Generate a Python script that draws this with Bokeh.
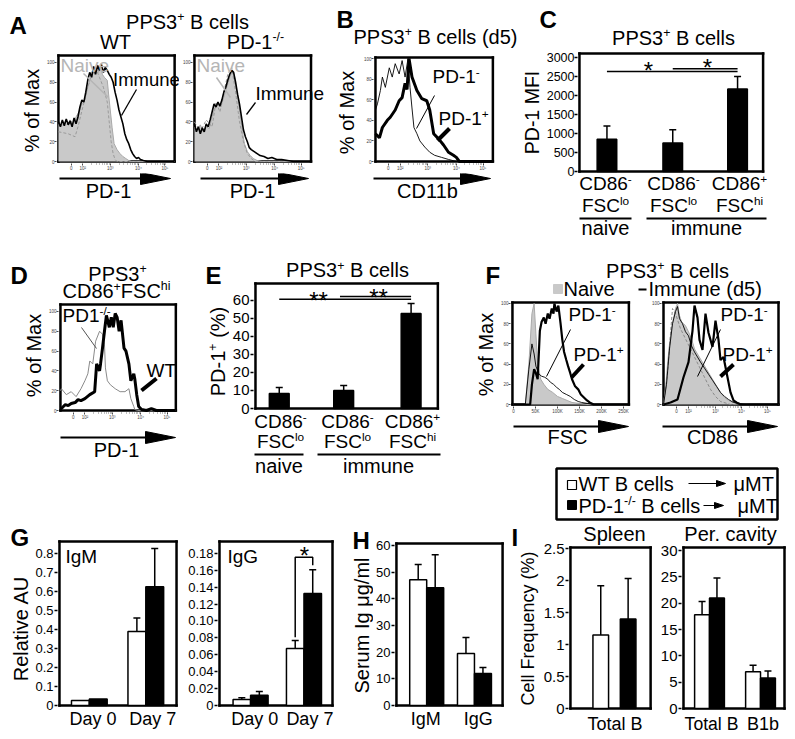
import math
from bokeh.plotting import figure
from bokeh.layouts import row, column
from bokeh.models import (Range1d, Label, Arrow, TeeHead, Whisker, ColumnDataSource,
                          FixedTicker, LinearAxis, PolyAnnotation)
from bokeh.embed import file_html
from bokeh.resources import INLINE

FONT = "Liberation Sans"
GRAY_FILL = "#c9c9c9"
GRAY_LINE = "#a9a9a9"
LABEL_GRAY = "#b5b5b5"

# ======================= DATA =======================
# Histograms: x = display channel (F1: FSC in thousands), y = % of max
a_wt_naive_ch = [0, 3, 6, 9, 12, 15, 18, 21, 24, 27, 30, 33, 35, 37, 39, 41, 43, 45, 47, 50, 52, 55, 57, 60, 63, 66, 69, 72, 75, 119]
a_wt_naive_pct = [38, 36, 40, 37, 42, 38, 45, 50, 58, 62, 75, 85, 92, 88, 95, 90, 96, 88, 85, 82, 62, 34, 18, 12, 8, 5, 3, 1, 0, 0]
a_wt_naive2_ch = [0, 10, 17, 20, 25, 30, 35, 38, 42, 46, 50, 52, 54, 56, 58, 60, 119]
a_wt_naive2_pct = [30, 28, 25, 35, 55, 75, 90, 95, 85, 75, 60, 40, 20, 8, 2, 0, 0]
a_wt_immune_ch = [0, 2, 4, 6, 8, 10, 12, 14, 16, 18, 20, 22, 24, 26, 28, 30, 32, 34, 36, 38, 40, 42, 44, 46, 48, 50, 52, 54, 56, 58, 60, 62, 64, 66, 68, 70, 72, 74, 76, 78, 80, 82, 84, 87, 91, 119]
a_wt_immune_pct = [40, 35, 42, 36, 43, 37, 41, 35, 44, 38, 45, 55, 62, 60, 70, 82, 90, 85, 96, 88, 97, 92, 98, 90, 95, 92, 88, 85, 80, 70, 62, 52, 45, 38, 28, 22, 18, 12, 8, 5, 3, 4, 2, 1, 0, 0]
a_ko_naive_ch = [0, 3, 6, 9, 12, 15, 18, 21, 24, 27, 30, 33, 36, 39, 41, 43, 45, 47, 49, 51, 54, 57, 60, 64, 69, 119]
a_ko_naive_pct = [35, 32, 37, 30, 36, 33, 45, 55, 58, 55, 65, 75, 85, 92, 85, 72, 60, 45, 30, 18, 10, 6, 3, 1, 0, 0]
a_ko_naive2_ch = [0, 6, 12, 18, 22, 26, 30, 34, 38, 42, 46, 50, 54, 58, 62, 119]
a_ko_naive2_pct = [40, 30, 42, 35, 60, 50, 70, 88, 95, 70, 40, 20, 8, 3, 0, 0]
a_ko_immune_ch = [0, 2, 4, 6, 8, 10, 12, 14, 16, 18, 20, 22, 24, 26, 28, 30, 32, 34, 36, 38, 40, 42, 44, 46, 48, 50, 52, 54, 56, 58, 61, 64, 67, 71, 75, 79, 84, 89, 95, 101, 119]
a_ko_immune_pct = [38, 30, 35, 28, 34, 30, 38, 35, 42, 50, 58, 55, 60, 56, 62, 70, 75, 82, 88, 92, 90, 80, 68, 58, 45, 32, 25, 20, 14, 12, 10, 8, 6, 5, 3, 4, 2, 2, 1, 0, 0]

b_neg_ch = [0, 2, 5, 7, 10, 14, 17, 20, 24, 27, 30, 33, 35, 37, 39, 42, 45, 50, 55, 60, 67, 74, 82, 119]
b_neg_pct = [50, 56, 69, 82, 72, 91, 82, 95, 85, 98, 82, 100, 72, 52, 33, 27, 20, 14, 9, 6, 4, 2, 0, 0]
b_pos_ch = [0, 4, 7, 12, 15, 20, 24, 27, 30, 32, 34, 37, 42, 47, 52, 55, 59, 64, 69, 74, 79, 82, 85, 119]
b_pos_pct = [27, 23, 33, 40, 43, 50, 59, 62, 76, 70, 100, 82, 69, 61, 59, 50, 27, 22, 16, 9, 6, 4, 0, 0]

d_ko_ch = [0, 1, 6, 11, 16, 21, 25, 28, 30, 33, 36, 40, 43, 45, 46, 48, 51, 56, 61, 66, 70, 72, 75, 76, 79, 118]
d_ko_pct = [20, 22, 16, 19, 14, 22, 30, 37, 50, 47, 70, 80, 77, 67, 43, 30, 26, 22, 19, 19, 22, 12, 4, 1, 0, 0]
d_wt_ch = [0, 1, 5, 8, 11, 15, 18, 21, 25, 30, 35, 37, 40, 41, 43, 45, 47, 50, 52, 54, 56, 58, 60, 62, 65, 67, 70, 72, 75, 76, 78, 80, 83, 88, 93, 98, 118]
d_wt_pct = [2, 2, 6, 5, 7, 8, 11, 10, 12, 16, 19, 47, 40, 47, 63, 80, 96, 84, 94, 84, 98, 94, 80, 91, 63, 60, 47, 30, 37, 32, 16, 4, 1, 0, 2, 0, 0]

f_fsc_naive_k = [0, 27, 35, 42, 47, 51, 55, 62, 69, 78, 89, 100, 111, 122, 133, 151, 167, 262]
f_fsc_naive_pct = [0, 0, 40, 90, 100, 70, 40, 25, 20, 15, 12, 8, 6, 4, 2, 1, 0, 0]
f_fsc_neg_k = [0, 27, 35, 42, 47, 51, 58, 64, 71, 78, 84, 91, 98, 104, 111, 120, 129, 138, 147, 155, 169, 182, 262]
f_fsc_neg_pct = [0, 0, 35, 60, 50, 38, 30, 28, 27, 25, 22, 20, 17, 15, 12, 10, 8, 5, 3, 2, 1, 0, 0]
f_fsc_pos_k = [0, 38, 42, 47, 51, 55, 60, 64, 69, 73, 78, 82, 87, 91, 93, 98, 102, 107, 111, 115, 120, 124, 129, 133, 140, 147, 153, 160, 167, 173, 182, 262]
f_fsc_pos_pct = [0, 0, 20, 35, 31, 25, 73, 82, 86, 80, 90, 85, 95, 90, 100, 92, 98, 80, 64, 52, 44, 38, 31, 25, 18, 15, 10, 7, 4, 2, 0, 0]
f_cd86_naive_ch = [0, 2, 4, 6, 8, 10, 12, 14, 16, 18, 20, 22, 25, 28, 31, 34, 37, 40, 43, 46, 49, 52, 55, 58, 61, 65, 70, 77, 85, 115]
f_cd86_naive_pct = [0, 15, 40, 60, 75, 85, 95, 100, 88, 82, 80, 78, 72, 65, 55, 50, 45, 40, 35, 30, 25, 20, 15, 10, 7, 4, 2, 1, 0, 0]
f_cd86_naive2_ch = [0, 4, 7, 9, 12, 17, 22, 27, 32, 37, 42, 47, 52, 57, 67, 115]
f_cd86_naive2_pct = [0, 30, 70, 95, 90, 75, 65, 55, 45, 35, 25, 15, 8, 3, 0, 0]
f_cd86_neg_ch = [0, 3, 6, 9, 12, 14, 16, 19, 22, 25, 28, 31, 34, 37, 41, 45, 49, 53, 57, 61, 65, 70, 77, 85, 115]
f_cd86_neg_pct = [0, 20, 55, 80, 92, 97, 85, 80, 72, 68, 58, 52, 47, 42, 36, 30, 24, 18, 12, 8, 5, 2, 1, 0, 0]
f_cd86_pos_ch = [0, 7, 14, 20, 25, 29, 31, 34, 36, 39, 42, 45, 49, 52, 55, 57, 60, 64, 67, 70, 73, 77, 115]
f_cd86_pos_pct = [0, 2, 5, 27, 42, 73, 98, 86, 64, 54, 90, 71, 57, 83, 64, 44, 47, 27, 12, 4, 2, 0, 0]

hist_pct_ticks = [0, 20, 40, 60, 80, 100]
log_tick_labels = ["0", "10\u00b2", "10\u00b3", "10\u2074", "10\u2075"]
fsc_ticks = [0, 50, 100, 150, 200, 250]
fsc_tick_labels = ["0", "50K", "100K", "150K", "200K", "250K"]

# C: PD-1 MFI ; E: % PD-1+
c_mfi = [850, 750, 2170]
c_mfi_err = [350, 350, 330]
c_sig = [2630, 2705]
e_pct = [8.3, 10.0, 52.8]
e_pct_err = [3.4, 2.8, 5.5]
e_sig = [60.6, 62.2]

# G: relative AU (IgM / IgG); H: serum Ig; I: cell frequency
g_days = ["Day 0", "Day 7"]
g_igm_wt = [0.026, 0.389]
g_igm_wt_err = [0.0, 0.072]
g_igm_ko = [0.034, 0.625]
g_igm_ko_err = [0.0, 0.201]
g_igg_wt = [0.007, 0.0675]
g_igg_wt_err = [0.0022, 0.0095]
g_igg_ko = [0.012, 0.1326]
g_igg_ko_err = [0.0045, 0.028]
g_igg_sig = [0.1753, 0.0806, 0.166]
h_iso = ["IgM", "IgG"]
h_wt = [47.2, 19.5]
h_wt_err = [5.7, 6.0]
h_ko = [44.2, 12.0]
h_ko_err = [12.4, 2.3]
i_spleen = ["Total B"]
i_spleen_wt = [1.15]
i_spleen_wt_err = [0.77]
i_spleen_ko = [1.40]
i_spleen_ko_err = [0.63]
i_per = ["Total B", "B1b"]
i_per_wt = [17.8, 7.0]
i_per_wt_err = [2.5, 1.2]
i_per_ko = [21.0, 5.8]
i_per_ko_err = [3.8, 1.3]

# ======================= HELPERS =======================
AW = {' ': 278, '!': 278, '%': 889, '(': 333, ')': 333, '*': 389, '+': 584, '-': 333, '.': 278,
      '/': 278, 'A': 667, 'B': 667, 'C': 722, 'D': 722, 'E': 667, 'F': 611, 'G': 778, 'H': 722,
      'I': 278, 'J': 500, 'K': 667, 'L': 556, 'M': 833, 'N': 722, 'O': 778, 'P': 667, 'Q': 778,
      'R': 722, 'S': 667, 'T': 611, 'U': 722, 'V': 667, 'W': 944, 'X': 667, 'Y': 667, 'Z': 611,
      'a': 556, 'b': 556, 'c': 500, 'd': 556, 'e': 556, 'f': 278, 'g': 556, 'h': 556, 'i': 222,
      'j': 222, 'k': 500, 'l': 222, 'm': 833, 'n': 556, 'o': 556, 'p': 556, 'q': 556, 'r': 333,
      's': 500, 't': 278, 'u': 556, 'v': 500, 'w': 722, 'x': 500, 'y': 500, 'z': 500,
      '\u03bc': 576, '\u2013': 556}
SUP = 0.62
ROT = math.pi / 2
MID = 0.35   # distance from baseline to the text's vertical middle, in em
BOX = {}


def tw(s, size):
    return sum(AW.get(c, 556) for c in s) * size / 1000.0


def base_fig(X0, Y0, X1, Y1, fl, ft, fr, fb, xr, yr):
    p = figure(width=X1 - X0, height=Y1 - Y0, x_range=Range1d(*xr), y_range=Range1d(*yr),
               x_axis_type=None, y_axis_type=None, output_backend="svg", toolbar_location=None,
               title=None, frame_align=False,
               min_border_left=fl - X0, min_border_right=X1 - fr,
               min_border_top=ft - Y0, min_border_bottom=Y1 - fb)
    p.outline_line_color = None
    p.background_fill_color = "white"
    p.border_fill_color = "white"
    BOX[p.id] = (fl, fb)
    return p


def tile(X0, Y0, X1, Y1):
    return base_fig(X0, Y0, X1, Y1, X0, Y0, X1, Y1, (0, 1), (0, 1))


def plot(X0, Y0, X1, Y1, box, xd, yd, fb=None):
    # box = visible plot box (page px); xd/yd = data values at the box edges
    bl, bt, br, bb = box
    fl, ft, fr = bl - 2, Y0, X1
    if fb is None:
        fb = bb + 2
    sx = (xd[1] - xd[0]) / float(br - bl)
    sy = (yd[1] - yd[0]) / float(bb - bt)
    xr = (xd[0] - (bl - fl) * sx, xd[1] + (fr - br) * sx)
    yr = (yd[0] - (fb - bb) * sy, yd[1] + (bt - ft) * sy)
    p = base_fig(X0, Y0, X1, Y1, fl, ft, fr, fb, xr, yr)
    x0, x1 = xd
    y0, y1 = yd
    p.segment(x0=[x0, x1, x1, x0], y0=[y0, y0, y1, y1], x1=[x1, x1, x0, x0], y1=[y0, y1, y1, y0],
              line_color="#000000", line_alpha=1.0, line_width=2.5, line_cap="square")
    return p


def T(p, X, Y, text, size, align="left", color="black", angle=0.0, bold=False):
    # (X, Y) = point on the text baseline, in page pixels
    fl, fb = BOX[p.id]
    c = MID * size
    if angle == 0:
        xa, ya = X, Y - c
    else:
        xa, ya = X - c, Y
    p.add_layout(Label(x=xa - fl, y=fb - ya, x_units="screen", y_units="screen", text=text,
                       text_font=FONT, text_font_size="%.1fpx" % size, text_align=align,
                       text_baseline="middle", text_color=color, angle=angle,
                       text_font_style="bold" if bold else "normal"))


def R(p, X, Y, parts, size, align="center", angle=0.0, color="black"):
    sizes = [size * SUP if k == "u" else size for t, k in parts]
    widths = [tw(t, s) for (t, k), s in zip(parts, sizes)]
    total = sum(widths)
    off = {"left": 0.0, "center": -total / 2.0, "right": -total}[align]
    for (t, k), s, w in zip(parts, sizes, widths):
        st = t.lstrip(" ")
        lead = tw(" " * (len(t) - len(st)), s)
        rise = size * 0.38 if k == "u" else 0.0
        if angle == 0:
            T(p, X + off + lead, Y - rise, st, s, color=color)
        else:
            T(p, X - rise, Y - off - lead, st, s, angle=angle, color=color)
        off += w


def L(p, X0, Y0, X1, Y1, width=1.0, color="black", dash="solid"):
    fl, fb = BOX[p.id]
    p.add_layout(Arrow(x_start=X0 - fl, y_start=fb - Y0, x_end=X1 - fl, y_end=fb - Y1,
                       start_units="screen", end_units="screen", end=None,
                       line_width=width, line_color=color, line_dash=dash))


def PG(p, pts, fill="black", line="black", lw=1.0):
    fl, fb = BOX[p.id]
    p.add_layout(PolyAnnotation(xs=[x - fl for x, y in pts], ys=[fb - y for x, y in pts],
                                xs_units="screen", ys_units="screen",
                                fill_color=fill, fill_alpha=1.0 if fill else 0.0,
                                line_color=line, line_width=lw, line_alpha=1.0))


def axis_arrow(p, X0, X1, Y):
    L(p, X0, Y, X1 - 24, Y, width=2)
    PG(p, [(X1 - 30, Y - 6), (X1, Y), (X1 - 30, Y + 6)])


TINY = dict(axis_line_color=None, major_tick_out=2, major_tick_in=0, minor_tick_out=1,
            minor_tick_in=0, major_label_standoff=0, major_label_text_font=FONT,
            major_label_text_font_size="4.5px", major_label_text_color="#444444",
            major_tick_line_width=0.7, minor_tick_line_width=0.5)


def hist(X0, Y0, X1, Y1, box, xd, yd, xticks, xlabels, minor=None):
    p = plot(X0, Y0, X1, Y1, box, xd, yd)
    p.add_layout(LinearAxis(ticker=FixedTicker(ticks=hist_pct_ticks), **TINY), "left")
    p.add_layout(LinearAxis(ticker=FixedTicker(ticks=xticks, minor_ticks=minor or []),
                            major_label_overrides=dict(zip(xticks, xlabels)), **TINY), "below")
    return p


def log_minor(d0, dec):
    return [d0 + i * dec + dec * math.log10(k) for i in range(3) for k in range(2, 10)]


def yaxis(p, ticks, size, labels=None, tick_out=3, standoff=1):
    ax = LinearAxis(ticker=FixedTicker(ticks=ticks), axis_line_color=None, major_tick_out=tick_out,
                    major_tick_in=0, minor_tick_out=0, minor_tick_in=0, major_label_standoff=standoff,
                    major_tick_line_width=1.5, major_label_text_font=FONT,
                    major_label_text_font_size="%.1fpx" % size, major_label_text_color="black")
    if labels:
        ax.major_label_overrides = dict(zip(ticks, labels))
    p.add_layout(ax, "left")


def cat_axis(p, ticks, labels, standoff=1):
    p.add_layout(LinearAxis(ticker=FixedTicker(ticks=ticks), major_label_overrides=dict(zip(ticks, labels)),
                            axis_line_color=None, major_tick_line_color=None, major_tick_out=0,
                            major_tick_in=0, minor_tick_line_color=None, minor_tick_out=0,
                            major_label_standoff=standoff, major_label_text_font=FONT,
                            major_label_text_font_size="18px", major_label_text_color="black"), "below")


def bars(p, xs, vals, errs, width, fill):
    p.vbar(x=xs, top=vals, bottom=0, width=width, fill_color=fill, line_color="black", line_width=1.5)
    sel = [i for i, e in enumerate(errs) if e > 0]
    if sel:
        src = ColumnDataSource(dict(x=[xs[i] for i in sel], lo=[vals[i] for i in sel],
                                    hi=[vals[i] + errs[i] for i in sel]))
        p.add_layout(Whisker(source=src, base="x", lower="lo", upper="hi", dimension="height",
                             line_width=1.5, line_color="black", level="overlay",
                             upper_head=TeeHead(size=7, line_width=1.5, line_color="black"),
                             lower_head=None))


def cd86_labels(p, centers, y1, y2, signs, lohi, size=19):
    for cx, s, lh in zip(centers, signs, lohi):
        R(p, cx, y1, [("CD86", "n"), (s, "u")], size)
        R(p, cx, y2, [("FSC", "n"), (lh, "u")], size)


PPS3 = [("PPS3", "n"), ("+", "u"), (" B cells", "n")]
A_TICKS = [13, 25, 53, 82, 109]
A_MINOR = log_minor(25, 28.5)

# ======================= ROW 1 (y 0..258) =======================
tA = tile(0, 0, 335, 53)
T(tA, 9, 33, "A", 24, bold=True)
R(tA, 187, 28, PPS3, 20)
T(tA, 115, 48.8, "WT", 20, align="center")
R(tA, 255, 48.8, [("PD-1", "n"), ("-/-", "u")], 20)

tA_left = tile(0, 53, 43, 258)
T(tA_left, 38.8, 110, "% of Max", 20, align="center", angle=ROT)

pA1 = hist(43, 53, 179, 173, (55, 55, 174, 161), (0, 119), (0, 107), A_TICKS, log_tick_labels, A_MINOR)
pA1.varea(x=a_wt_naive_ch, y1=0, y2=a_wt_naive_pct, fill_color=GRAY_FILL)
pA1.line(a_wt_naive_ch, a_wt_naive_pct, line_color=GRAY_LINE, line_width=1)
pA1.line(a_wt_naive2_ch, a_wt_naive2_pct, line_color="#9a9a9a", line_width=1, line_dash="3 2")
pA1.line(a_wt_immune_ch, a_wt_immune_pct, line_color="black", line_width=1.6)
T(pA1, 57, 71.5, "Naive", 19, color=LABEL_GRAY)
T(pA1, 109.5, 85, "Immune", 18.5)
L(pA1, 80, 73, 105, 97, width=1.5, color=LABEL_GRAY)
L(pA1, 133, 89, 118, 115, width=1.3)
tA1_bot = tile(43, 173, 179, 258)
axis_arrow(tA1_bot, 59, 170, 178)
T(tA1_bot, 108, 197, "PD-1", 20, align="center")

pA2 = hist(179, 53, 335, 173, (191, 55, 310, 161), (0, 119), (0, 107), A_TICKS, log_tick_labels, A_MINOR)
pA2.varea(x=a_ko_naive_ch, y1=0, y2=a_ko_naive_pct, fill_color=GRAY_FILL)
pA2.line(a_ko_naive_ch, a_ko_naive_pct, line_color=GRAY_LINE, line_width=1)
pA2.line(a_ko_naive2_ch, a_ko_naive2_pct, line_color="#9a9a9a", line_width=1, line_dash="3 2")
pA2.line(a_ko_immune_ch, a_ko_immune_pct, line_color="black", line_width=1.6)
T(pA2, 193, 71.5, "Naive", 19, color=LABEL_GRAY)
T(pA2, 252, 100, "Immune", 19)
L(pA2, 213, 77, 227, 97, width=1.5, color=LABEL_GRAY)
L(pA2, 252, 102, 243, 114, width=1.3)
tA2_bot = tile(179, 173, 335, 258)
axis_arrow(tA2_bot, 200, 308, 178)
T(tA2_bot, 252, 197, "PD-1", 20, align="center")

colA = column(tA, row(tA_left, column(pA1, tA1_bot), column(pA2, tA2_bot)))

tB = tile(335, 0, 520, 53)
T(tB, 336, 27, "B", 24, bold=True)
R(tB, 435, 43, [("PPS3", "n"), ("+", "u"), (" B cells (d5)", "n")], 20)
tB_left = tile(335, 53, 360, 258)
T(tB_left, 353, 112, "% of Max", 20, align="center", angle=ROT)
pB = hist(360, 53, 520, 173, (373, 57, 492, 161), (0, 119), (0, 101), A_TICKS, log_tick_labels, A_MINOR)
pB.line(b_neg_ch, b_neg_pct, line_color="black", line_width=0.9)
pB.line(b_pos_ch, b_pos_pct, line_color="black", line_width=3)
R(pB, 430, 83, [("PD-1", "n"), ("-", "u")], 19, align="left")
R(pB, 436, 125, [("PD-1", "n"), ("+", "u")], 19, align="left")
L(pB, 432, 95, 414, 128, width=1)
L(pB, 447, 128, 435, 140, width=4)
tB_bot = tile(360, 173, 520, 258)
axis_arrow(tB_bot, 373, 490, 178)
T(tB_bot, 427, 197, "CD11b", 20, align="center")
colB = column(tB, row(tB_left, column(pB, tB_bot)))

C_X = [0.449, 1.524, 2.583]
tC = tile(520, 0, 795, 49)
T(tC, 539, 27, "C", 24, bold=True)
R(tC, 673, 44, PPS3, 20)
tC_left = tile(520, 49, 543, 258)
T(tC_left, 538, 112, "PD-1 MFI", 19.5, align="center", angle=ROT)
pC = plot(543, 49, 795, 258, (575, 53, 762, 171), (0, 3), (0, 3105), fb=258)
yaxis(pC, [0, 500, 1000, 1500, 2000, 2500, 3000], 12.5, tick_out=3, standoff=0)
bars(pC, C_X, c_mfi, c_mfi_err, 0.32, "black")
pC.segment(x0=[C_X[0], C_X[1]], y0=c_sig, x1=[C_X[2], C_X[2]], y1=c_sig, line_color="black", line_width=1.5)
T(pC, 644, 78, "*", 24, align="center")
T(pC, 703, 75, "*", 24, align="center")
cd86_labels(pC, [601, 669, 735], 190, 212, ["-", "-", "+"], ["lo", "lo", "hi"])
L(pC, 575, 218, 627, 218, width=2)
L(pC, 642, 218, 762, 218, width=2)
T(pC, 601, 234, "naive", 20, align="center")
T(pC, 702, 234, "immune", 20, align="center")
colC = column(tC, row(tC_left, pC))

row1 = row(colA, colB, colC)

# ======================= ROW 2 (y 258..522) =======================
tD = tile(0, 258, 190, 302)
T(tD, 10, 283, "D", 24, bold=True)
R(tD, 117, 280, [("PPS3", "n"), ("+", "u")], 20)
R(tD, 116, 297.7, [("CD86", "n"), ("+", "u"), ("FSC", "n"), ("hi", "u")], 20)
tD_left = tile(0, 302, 45, 522)
T(tD_left, 40, 355, "% of Max", 20, align="center", angle=ROT)
pD = hist(45, 302, 190, 422, (57, 304, 175, 410), (0, 118), (0, 107), A_TICKS, log_tick_labels, A_MINOR)
pD.line(d_ko_ch, d_ko_pct, line_color="#8a8a8a", line_width=1)
pD.line(d_wt_ch, d_wt_pct, line_color="black", line_width=3)
R(pD, 59, 322, [("PD1", "n"), ("-/-", "u")], 19, align="left")
T(pD, 143, 377, "WT", 19)
L(pD, 78, 327, 93, 348, width=1, color="#555555")
L(pD, 153, 378, 138, 390, width=4)
tD_bot = tile(45, 422, 190, 522)
axis_arrow(tD_bot, 60, 175, 437)
T(tD_bot, 116, 456, "PD-1", 20, align="center")
colD = column(tD, row(tD_left, column(pD, tD_bot)))

E_X = [0.391, 1.451, 2.560]
tE_left = tile(190, 258, 229, 522)
T(tE_left, 205, 283, "E", 24, bold=True)
R(tE_left, 224, 351, [("PD-1", "n"), ("+", "u"), (" (%)", "n")], 20, angle=ROT)
tE = tile(229, 258, 475, 281)
R(tE, 347, 276.7, PPS3, 20)
pE = plot(229, 281, 475, 522, (253, 283, 437, 408), (0, 3), (0, 69.4), fb=522)
yaxis(pE, [0, 10, 20, 30, 40, 50, 60], 15)
bars(pE, E_X, e_pct, e_pct_err, 0.326, "black")
pE.segment(x0=[E_X[0], 1.39], y0=e_sig, x1=[E_X[2], E_X[2]], y1=e_sig, line_color="black", line_width=1.5)
T(pE, 316, 308, "**", 24, align="center")
T(pE, 376, 305, "**", 24, align="center")
cd86_labels(pE, [278, 345, 410], 428, 448, ["-", "-", "+"], ["lo", "lo", "hi"])
L(pE, 252, 454, 301, 454, width=2)
L(pE, 315, 454, 438, 454, width=2)
T(pE, 276.5, 472, "naive", 20, align="center")
T(pE, 376, 472, "immune", 20, align="center")
colE = row(tE_left, column(tE, pE))

tF = tile(475, 258, 795, 300)
T(tF, 485, 283, "F", 24, bold=True)
R(tF, 667, 277, PPS3, 20)
PG(tF, [(553, 284), (562, 284), (562, 293), (553, 293)], fill=GRAY_FILL, line=GRAY_FILL)
T(tF, 563, 295, "Naive", 20)
L(tF, 638, 289, 646, 289, width=2)
T(tF, 648, 295, "Immune (d5)", 20)
tF_left = tile(475, 300, 497, 465)
T(tF_left, 492.8, 354, "% of Max", 20, align="center", angle=ROT)

pF1 = hist(497, 300, 645, 416, (509, 302, 628, 405), (-2.2, 262), (0, 101), fsc_ticks, fsc_tick_labels)
pF1.varea(x=f_fsc_naive_k, y1=0, y2=f_fsc_naive_pct, fill_color=GRAY_FILL)
pF1.line(f_fsc_naive_k, f_fsc_naive_pct, line_color=GRAY_LINE, line_width=1)
pF1.line(f_fsc_neg_k, f_fsc_neg_pct, line_color="black", line_width=0.9)
pF1.line(f_fsc_pos_k, f_fsc_pos_pct, line_color="black", line_width=2.2)
R(pF1, 565, 322, [("PD-1", "n"), ("-", "u")], 19, align="left")
R(pF1, 570, 362, [("PD-1", "n"), ("+", "u")], 19, align="left")
L(pF1, 567, 330, 543, 377, width=1)
L(pF1, 580, 365, 568, 378, width=4)
tF1_bot = tile(497, 416, 645, 465)
axis_arrow(tF1_bot, 513, 628, 426)
T(tF1_bot, 567, 443, "FSC", 20, align="center")

F2_TICKS = [13, 25, 52, 78, 104]
pF2 = hist(645, 300, 795, 416, (663, 302, 778, 405), (0, 115), (0, 101), F2_TICKS, log_tick_labels, log_minor(25, 26.5))
pF2.varea(x=f_cd86_naive_ch, y1=0, y2=f_cd86_naive_pct, fill_color=GRAY_FILL)
pF2.line(f_cd86_naive_ch, f_cd86_naive_pct, line_color=GRAY_LINE, line_width=1)
pF2.line(f_cd86_naive2_ch, f_cd86_naive2_pct, line_color="#8a8a8a", line_width=1, line_dash="3 2")
pF2.line(f_cd86_neg_ch, f_cd86_neg_pct, line_color="black", line_width=0.9)
pF2.line(f_cd86_pos_ch, f_cd86_pos_pct, line_color="black", line_width=2.2)
R(pF2, 720, 322, [("PD-1", "n"), ("-", "u")], 19, align="left")
R(pF2, 722, 362, [("PD-1", "n"), ("+", "u")], 19, align="left")
L(pF2, 720, 330, 697, 377, width=1)
L(pF2, 733, 365, 720, 377, width=4)
tF2_bot = tile(645, 416, 795, 465)
axis_arrow(tF2_bot, 662, 777, 426)
T(tF2_bot, 712, 443, "CD86", 20, align="center")

lg = tile(475, 465, 795, 522)
PG(lg, [(556, 468), (777, 468), (777, 519), (556, 519)], fill=None, lw=2.5)
PG(lg, [(567, 480), (576, 480), (576, 489), (567, 489)], fill="white", lw=1.2)
T(lg, 578, 490, "WT B cells", 20)
L(lg, 688, 483, 718, 483, width=1.2)
PG(lg, [(716, 480), (725, 483), (716, 486)])
T(lg, 733, 490, "\u03bcMT", 20)
PG(lg, [(567, 500), (576, 500), (576, 509), (567, 509)])
R(lg, 578, 512, [("PD-1", "n"), ("-/-", "u"), (" B cells", "n")], 20, align="left")
L(lg, 703, 505, 716, 505, width=1.2)
PG(lg, [(714, 502), (723, 505), (714, 508)])
T(lg, 737, 512, "\u03bcMT", 20)

colF = column(tF, row(tF_left, column(pF1, tF1_bot), column(pF2, tF2_bot)), lg)
row2 = row(colD, colE, colF)

# ======================= ROW 3 (y 522..739) =======================
tG_left = tile(0, 522, 32, 739)
T(tG_left, 27.5, 628, "Relative AU", 20, align="center", angle=ROT)
T(tG_left, 10, 545, "G", 24, bold=True)

pG1 = plot(32, 522, 180, 739, (58, 541, 176, 705), (0, 4), (0, 0.863))
yaxis(pG1, [0, 0.1, 0.2, 0.3, 0.4, 0.5, 0.6, 0.7, 0.8], 13,
      ["0", "0.1", "0.2", "0.3", "0.4", "0.5", "0.6", "0.7", "0.8"])
bars(pG1, [1.02 - 0.305, 2.95 - 0.305], g_igm_wt, g_igm_wt_err, 0.61, "white")
bars(pG1, [1.02 + 0.305, 2.95 + 0.305], g_igm_ko, g_igm_ko_err, 0.61, "black")
cat_axis(pG1, [1.15, 3.19], g_days)
T(pG1, 64, 563, "IgM", 19)

pG2 = plot(180, 522, 338, 739, (219, 541, 332, 705), (0, 4), (0, 0.194))
yaxis(pG2, [0, 0.02, 0.04, 0.06, 0.08, 0.10, 0.12, 0.14, 0.16, 0.18], 13,
      ["0", "0.02", "0.04", "0.06", "0.08", "0.10", "0.12", "0.14", "0.16", "0.18"])
bars(pG2, [1.10 - 0.31, 2.99 - 0.31], g_igg_wt, g_igg_wt_err, 0.62, "white")
bars(pG2, [1.10 + 0.31, 2.99 + 0.31], g_igg_ko, g_igg_ko_err, 0.62, "black")
pG2.line([2.68, 2.68, 3.30, 3.30], [g_igg_sig[1], g_igg_sig[0], g_igg_sig[0], g_igg_sig[2]],
         line_color="black", line_width=1.5)
cat_axis(pG2, [1.25, 3.2], g_days)
T(pG2, 227, 563, "IgG", 19)
T(pG2, 304, 563, "*", 24, align="center")

tH_left = tile(338, 522, 373, 739)
T(tH_left, 352, 548, "H", 24, bold=True)
T(tH_left, 368, 625, "Serum Ig \u03bcg/ml", 20, align="center", angle=ROT)
pH = plot(373, 522, 505, 739, (393, 543, 502, 705), (0, 4), (0, 60.8))
yaxis(pH, [0, 10, 20, 30, 40, 50, 60], 13)
bars(pH, [1.14 - 0.32, 2.94 - 0.32], h_wt, h_wt_err, 0.64, "white")
bars(pH, [1.14 + 0.32, 2.94 + 0.32], h_ko, h_ko_err, 0.64, "black")
cat_axis(pH, [1.10, 3.08], h_iso)

tI_left = tile(505, 522, 540, 739)
T(tI_left, 511, 545, "I", 24, bold=True)
T(tI_left, 534, 628, "Cell Frequency (%)", 18, align="center", angle=ROT)
pI1 = plot(540, 522, 655, 739, (568, 547, 650, 708), (0, 2), (0, 2.516), fb=739)
yaxis(pI1, [0, 0.5, 1, 1.5, 2, 2.5], 15, ["0", "0.5", "1", "1.5", "2", "2.5"])
bars(pI1, [0.756], i_spleen_wt, i_spleen_wt_err, 0.39, "white")
bars(pI1, [1.439], i_spleen_ko, i_spleen_ko_err, 0.39, "black")
T(pI1, 612, 540.3, "Spleen", 20, align="center")
T(pI1, 612.5, 730, i_spleen[0], 18, align="center")

pI2 = plot(655, 522, 795, 739, (683, 547, 784, 708), (0, 4), (0, 30.57), fb=739)
yaxis(pI2, [0, 5, 10, 15, 20, 25, 30], 15)
bars(pI2, [1.03 - 0.295, 3.05 - 0.295], i_per_wt, i_per_wt_err, 0.59, "white")
bars(pI2, [1.03 + 0.295, 3.05 + 0.295], i_per_ko, i_per_ko_err, 0.59, "black")
T(pI2, 730, 540.3, "Per. cavity", 20, align="center")
T(pI2, 711, 730, i_per[0], 17.6, align="center")
T(pI2, 762.5, 730, i_per[1], 18, align="center")

row3 = row(tG_left, pG1, pG2, tH_left, pH, tI_left, pI1, pI2)

layout = column(row1, row2, row3)
open("out.html", "w").write(file_html(layout, INLINE))
